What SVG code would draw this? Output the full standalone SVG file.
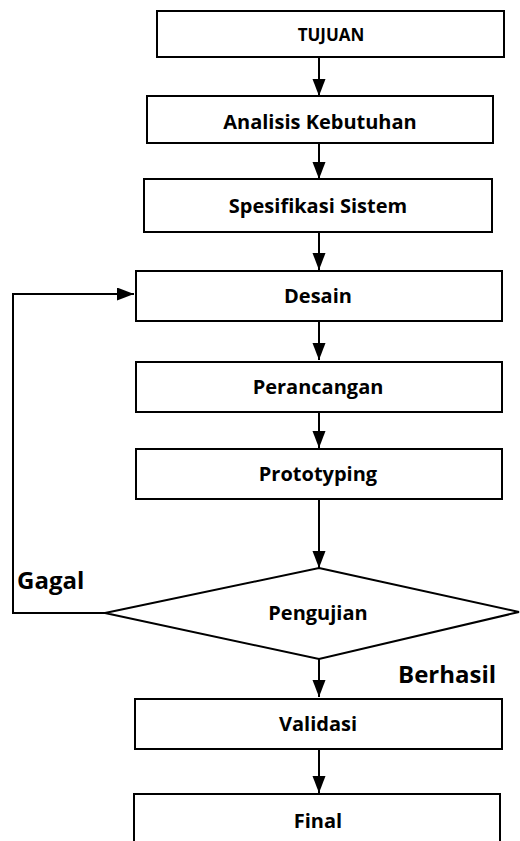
<svg xmlns="http://www.w3.org/2000/svg" width="520" height="841" viewBox="0 0 520 841">
<defs>
<marker id="ah" markerUnits="userSpaceOnUse" markerWidth="18" markerHeight="14" refX="17" refY="6.5" orient="auto">
<polygon points="0,0 17,6.5 0,13" fill="#000"/>
</marker>
<style>
.box{fill:#fff;stroke:#000;stroke-width:2}
.t{font-family:"Open Sans","Liberation Sans",sans-serif;font-weight:bold;font-size:20px;text-anchor:middle;fill:#000}
.lbl{font-family:"Open Sans","Liberation Sans",sans-serif;font-weight:bold;font-size:24px;fill:#000}
.c{fill:none;stroke:#000;stroke-width:2;marker-end:url(#ah)}
.p{fill:none;stroke:#000;stroke-width:2}
</style>
</defs>
<rect width="520" height="841" fill="#fff"/>
<g id="connectors">
<line class="c" x1="319" y1="57" x2="319" y2="96"/>
<line class="c" x1="319" y1="143" x2="319" y2="179"/>
<line class="c" x1="319" y1="232" x2="319" y2="270"/>
<line class="c" x1="319" y1="321" x2="319" y2="360"/>
<line class="c" x1="319" y1="412" x2="319" y2="448"/>
<line class="c" x1="319" y1="499" x2="319" y2="568"/>
<line class="c" x1="319" y1="659" x2="319" y2="697"/>
<line class="c" x1="319" y1="749" x2="319" y2="793"/>
<polyline class="c" points="105,613 13,613 13,294 134,294"/>
</g>
<g id="tujuan"><rect class="box" x="157" y="11" width="347" height="46"/><text class="t" x="331" y="41" style="font-size:17px">TUJUAN</text></g>
<g id="analisis"><rect class="box" x="147" y="96" width="346" height="47"/><text class="t" x="320" y="129">Analisis Kebutuhan</text></g>
<g id="spesifikasi"><rect class="box" x="144" y="179" width="348" height="53"/><text class="t" x="318" y="213">Spesifikasi Sistem</text></g>
<g id="desain"><rect class="box" x="136" y="271" width="366" height="50"/><text class="t" x="318" y="303">Desain</text></g>
<g id="perancangan"><rect class="box" x="136" y="362" width="366" height="50"/><text class="t" x="318" y="394">Perancangan</text></g>
<g id="prototyping"><rect class="box" x="136" y="449" width="366" height="50"/><text class="t" x="318" y="481">Prototyping</text></g>
<g id="pengujian"><polygon class="box" points="319,568 519,612 319,659 105,613"/><text class="t" x="318" y="620">Pengujian</text></g>
<g id="validasi"><rect class="box" x="135" y="699" width="367" height="50"/><text class="t" x="318" y="731">Validasi</text></g>
<g id="final"><rect class="box" x="134" y="794" width="366" height="60"/><text class="t" x="318" y="828">Final</text></g>
<g id="labels">
<text class="lbl" x="17" y="589">Gagal</text>
<text class="lbl" x="398" y="683">Berhasil</text>
</g>
</svg>
